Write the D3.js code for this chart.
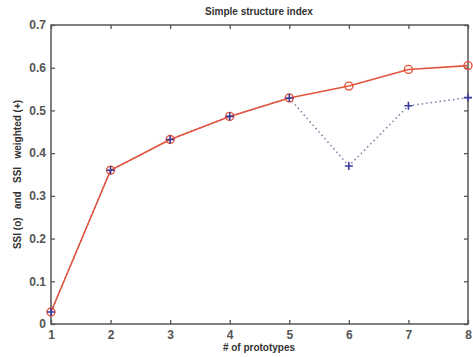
<!DOCTYPE html>
<html>
<head>
<meta charset="utf-8">
<script src="https://cdn.jsdelivr.net/npm/d3@7"></script>
<style>
body{margin:0;background:#fff;}
svg{display:block;}
</style>
</head>
<body>
<svg id="chart" width="473" height="357"></svg>
<script>
const prototypes = [1, 2, 3, 4, 5, 6, 7, 8];
const ssi = [0.028, 0.360, 0.432, 0.486, 0.529, 0.557, 0.596, 0.605];
const ssiWeighted = [0.028, 0.360, 0.432, 0.486, 0.529, 0.370, 0.511, 0.530];
const yTicks = [0, 0.1, 0.2, 0.3, 0.4, 0.5, 0.6, 0.7];
const xTicks = [1, 2, 3, 4, 5, 6, 7, 8];
const titleText = "Simple structure index";
const xLabel = "# of prototypes";
const yLabel = "SSI (o)   and   SSI   weighted (+)";

const svg = d3.select("#chart");
const m = {left: 51, right: 5, top: 25, bottom: 33};
const W = 473, H = 357;
const x = d3.scaleLinear().domain([1, 8]).range([m.left, W - m.right]);
const y = d3.scaleLinear().domain([0, 0.7]).range([H - m.bottom, m.top]);
const axisColor = "#555";
const font = "Liberation Sans, Arial, sans-serif";

// frame
svg.append("rect").attr("x", x(1)).attr("y", y(0.7))
  .attr("width", x(8) - x(1)).attr("height", y(0) - y(0.7))
  .attr("fill", "none").attr("stroke", axisColor).attr("stroke-width", 1.5);

// axes with inward ticks
const xb = svg.append("g").attr("transform", `translate(0,${y(0)})`)
  .call(d3.axisBottom(x).tickValues(xTicks).tickFormat(d3.format("d")).tickSizeInner(-4).tickSizeOuter(0).tickPadding(6));
const xt = svg.append("g").attr("transform", `translate(0,${y(0.7)})`)
  .call(d3.axisTop(x).tickValues(xTicks).tickFormat("").tickSizeInner(-4).tickSizeOuter(0));
const yl = svg.append("g").attr("transform", `translate(${x(1)},0)`)
  .call(d3.axisLeft(y).tickValues(yTicks).tickFormat(d => d === 0 ? "0" : d3.format(".1f")(d)).tickSizeInner(-4).tickSizeOuter(0).tickPadding(5));
const yr = svg.append("g").attr("transform", `translate(${x(8)},0)`)
  .call(d3.axisRight(y).tickValues(yTicks).tickFormat("").tickSizeInner(-4).tickSizeOuter(0));
[xb, xt, yl, yr].forEach(g => {
  g.select(".domain").remove();
  g.selectAll(".tick line").attr("stroke", axisColor).attr("stroke-width", 1.3);
  g.selectAll(".tick text").attr("fill", "#555").attr("font-family", font)
    .attr("font-size", 12).attr("font-weight", "bold");
});

// weighted (dotted blue) line
const pts = prototypes.map((p, i) => ({p, a: ssi[i], b: ssiWeighted[i]}));
svg.append("path").datum(pts)
  .attr("d", d3.line().x(d => x(d.p)).y(d => y(d.b)))
  .attr("fill", "none").attr("stroke", "#7a7aa8").attr("stroke-width", 1.5)
  .attr("stroke-dasharray", "1.5,3");

// SSI red line
svg.append("path").datum(pts)
  .attr("d", d3.line().x(d => x(d.p)).y(d => y(d.a)))
  .attr("fill", "none").attr("stroke", "#e2553c").attr("stroke-width", 1.6);

svg.selectAll("circle.o").data(pts).enter().append("circle")
  .attr("cx", d => x(d.p)).attr("cy", d => y(d.a)).attr("r", 4)
  .attr("fill", "none").attr("stroke", "#e2553c").attr("stroke-width", 1.4);

// crosses
const cs = 4;
svg.selectAll("path.plus").data(pts).enter().append("path")
  .attr("d", d => `M${x(d.p) - cs},${y(d.b)}H${x(d.p) + cs}M${x(d.p)},${y(d.b) - cs}V${y(d.b) + cs}`)
  .attr("stroke", "#3b3b9e").attr("stroke-width", 1.6).attr("fill", "none");

// labels
svg.append("text").attr("x", 259).attr("y", 15).attr("text-anchor", "middle")
  .attr("font-family", font).attr("font-size", 10).attr("font-weight", "bold")
  .attr("fill", "#333").text(titleText);
svg.append("text").attr("x", 259).attr("y", 351).attr("text-anchor", "middle")
  .attr("font-family", font).attr("font-size", 10).attr("font-weight", "bold")
  .attr("fill", "#333").text(xLabel);
svg.append("text").attr("transform", `translate(21,${y(0.35)}) rotate(-90)`)
  .attr("text-anchor", "middle").attr("xml:space", "preserve").style("white-space", "pre")
  .attr("font-family", font).attr("font-size", 10).attr("font-weight", "bold")
  .attr("fill", "#333").text(yLabel);
</script>
</body>
</html>
